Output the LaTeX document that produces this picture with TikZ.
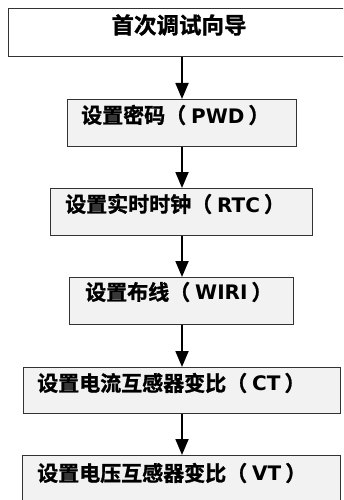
\documentclass[tikz,border=0pt]{standalone}
\usepackage{fontspec}
\setmainfont{Noto Sans CJK SC Bold}[FakeBold=1.2]
\newfontfamily\latfont{DejaVu Sans}
\newcommand{\latpart}[1]{\hspace{5pt}{\latfont\bfseries\fontsize{20}{21}\selectfont #1}\hspace{4pt}}
\usetikzlibrary{arrows.meta}
\begin{document}
\begin{tikzpicture}[x=1pt,y=-1pt,
  box/.style={draw=black!80,line width=1pt,fill=black!5,anchor=north west,inner sep=0pt},
  lbl/.style={anchor=west,inner sep=0pt,font=\fontsize{21}{22}\selectfont},
  flow/.style={line width=1.8pt,-{Triangle[length=16pt,width=13pt]}}]
\useasboundingbox (0,0) rectangle (343,500);
\begin{scope}
\clip (0,0) rectangle (343,500);
\node[box,fill=white,minimum width=340pt,minimum height=48pt] (b1) at (8,8) {};
\node[box,minimum width=229pt,minimum height=47pt] (b2) at (67,99) {};
\node[box,minimum width=262pt,minimum height=47pt] (b3) at (50,188) {};
\node[box,minimum width=224pt,minimum height=47pt] (b4) at (69,277) {};
\node[box,minimum width=317pt,minimum height=46pt] (b5) at (23,367) {};
\node[box,minimum width=318pt,minimum height=55pt] (b6) at (22,455) {};
\end{scope}
\node[lbl,anchor=center,font=\fontsize{22.5}{24}\selectfont] (t1) at (179,25) {首次调试向导};
\node[lbl] (t2) at (81,115) {设置密码（\latpart{PWD}）};
\node[lbl] (t3) at (65,204) {设置实时时钟（\latpart{RTC}）};
\node[lbl] (t4) at (85,292) {设置布线（\latpart{WIRI}）};
\node[lbl] (t5) at (37,383) {设置电流互感器变比（\latpart{CT}）};
\node[lbl] (t6) at (37,473) {设置电压互感器变比（\latpart{VT}）};
\coordinate (ax) at (182,0);
\draw[flow] (b1.south -| ax) -- (b2.north -| ax);
\draw[flow] (b2.south -| ax) -- (b3.north -| ax);
\draw[flow] (b3.south -| ax) -- (b4.north -| ax);
\draw[flow] (b4.south -| ax) -- (b5.north -| ax);
\draw[flow] (b5.south -| ax) -- (b6.north -| ax);
\end{tikzpicture}
\end{document}
